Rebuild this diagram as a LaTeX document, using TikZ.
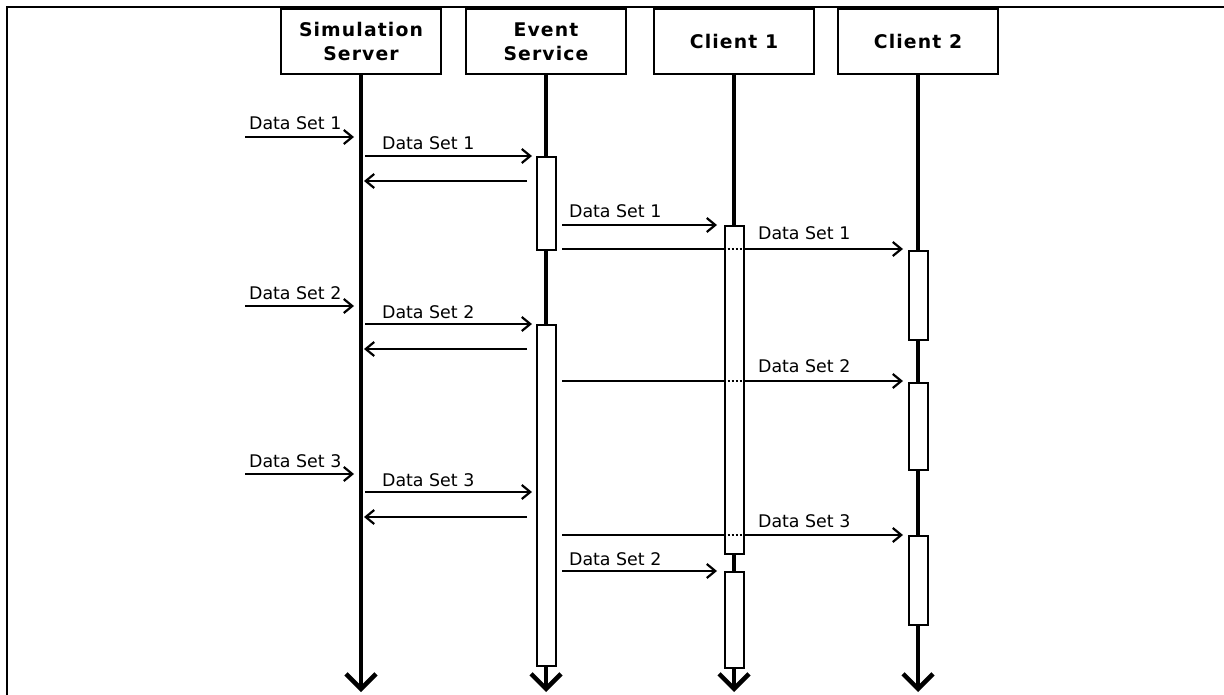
\documentclass[tikz,border=0pt]{standalone}
\usepackage{fontspec}
\setmainfont{DejaVu Sans}
\newfontfamily\headfont{DejaVu Sans}[LetterSpace=6]
\usepackage{tikz}
\usetikzlibrary{arrows.meta, positioning}

\begin{document}
\begin{tikzpicture}[
    x=1pt, y=-1pt,
    node distance=23.4pt,
    every node/.style={align=center},
    head/.style={draw, line width=1.6pt, minimum width=160pt, minimum height=65pt, inner sep=0pt,
        font=\headfont\bfseries\fontsize{18.8}{24}\selectfont},
    life/.style={line width=4.5pt, -{Straight Barb[length=15pt, width=30pt]}},
    msg/.style={line width=2.2pt, -{Straight Barb[length=8.5pt, width=14pt]}},
    act/.style={draw, fill=white, line width=2pt, minimum width=19pt, inner sep=0pt, anchor=north},
    lbl/.style={font=\fontsize{17.4}{20}\selectfont, inner sep=0pt, anchor=base west}
]
    \useasboundingbox (0,0) rectangle (1224,695);
    \draw[line width=2pt] (7,695) -- (7,7) -- (1224,7);

    % Nodes
    \node[head] (ss) at (361,41.5) {Simulation\\Server};
    \node[head, right=of ss] (es) {Event\\Service};
    \node[head, right=26.4pt of es] (c1) {Client 1};
    \node[head, right=22.4pt of c1] (c2) {Client 2};

    % Rows
    \coordinate (bot) at (0,692);
    \coordinate (in1) at (245,137);
    \coordinate (in2) at (245,306);
    \coordinate (in3) at (245,474);
    \coordinate (m1) at (0,156);
    \coordinate (r1) at (0,181);
    \coordinate (m2) at (0,225);
    \coordinate (m3) at (0,249);
    \coordinate (m4) at (0,324);
    \coordinate (r2) at (0,349);
    \coordinate (m5) at (0,381);
    \coordinate (m6) at (0,492);
    \coordinate (r3) at (0,517);
    \coordinate (m7) at (0,535);
    \coordinate (m8) at (0,571);

    % Lifelines
    \foreach \n in {ss, es, c1, c2}
        \draw[life] (\n.south) -- (\n.south |- bot);

    % Arrows
    \draw[msg, shorten >=7pt] (in1) -- (ss |- in1) node[lbl, pos=0, xshift=3pt, yshift=7pt] {Data Set 1};
    \draw[msg, shorten <=4pt, shorten >=14pt] (ss |- m1) -- (es |- m1) node[lbl, pos=0, xshift=20pt, yshift=6pt] {Data Set 1};
    \draw[msg, shorten <=19pt, shorten >=3pt] (es |- r1) -- (ss |- r1);
    \draw[msg, shorten <=16pt, shorten >=17pt] (es |- m2) -- (c1 |- m2) node[lbl, pos=0, xshift=22pt, yshift=7pt] {Data Set 1};
    \draw[msg, shorten <=16pt, shorten >=15pt] (es |- m3) -- (c2 |- m3) node[lbl, pos=0, xshift=211pt, yshift=9pt] {Data Set 1};

    \draw[msg, shorten >=7pt] (in2) -- (ss |- in2) node[lbl, pos=0, xshift=3pt, yshift=7pt] {Data Set 2};
    \draw[msg, shorten <=4pt, shorten >=14pt] (ss |- m4) -- (es |- m4) node[lbl, pos=0, xshift=20pt, yshift=6pt] {Data Set 2};
    \draw[msg, shorten <=19pt, shorten >=3pt] (es |- r2) -- (ss |- r2);
    \draw[msg, shorten <=16pt, shorten >=15pt] (es |- m5) -- (c2 |- m5) node[lbl, pos=0, xshift=211pt, yshift=9pt] {Data Set 2};

    \draw[msg, shorten >=7pt] (in3) -- (ss |- in3) node[lbl, pos=0, xshift=3pt, yshift=7pt] {Data Set 3};
    \draw[msg, shorten <=4pt, shorten >=14pt] (ss |- m6) -- (es |- m6) node[lbl, pos=0, xshift=20pt, yshift=6pt] {Data Set 3};
    \draw[msg, shorten <=19pt, shorten >=3pt] (es |- r3) -- (ss |- r3);
    \draw[msg, shorten <=16pt, shorten >=15pt] (es |- m7) -- (c2 |- m7) node[lbl, pos=0, xshift=211pt, yshift=8pt] {Data Set 3};
    \draw[msg, shorten <=16pt, shorten >=17pt] (es |- m8) -- (c1 |- m8) node[lbl, pos=0, xshift=22pt, yshift=6pt] {Data Set 2};

    % Activations
    \node[act, minimum height=93pt] (e1) at (es |- m1) {};
    \node[act, minimum height=341pt] (e2) at (es |- m4) {};
    \node[act, minimum height=328pt] (ca) at (c1 |- m2) {};
    \node[act, minimum height=96pt] (cb) at (c1 |- m8) {};
    \node[act, minimum height=89pt] (da) at ([yshift=-1pt]c2 |- m3) {};
    \node[act, minimum height=87pt] (db) at ([yshift=-1pt]c2 |- m5) {};
    \node[act, minimum height=89pt] (dc) at (c2 |- m7) {};

    % Crossings behind Client 1
    \foreach \r in {m3, m5, m7}
        \draw[line width=2pt, dash pattern=on 2pt off 2pt] (ca.west |- \r) -- (ca.east |- \r);

\end{tikzpicture}
\end{document}
